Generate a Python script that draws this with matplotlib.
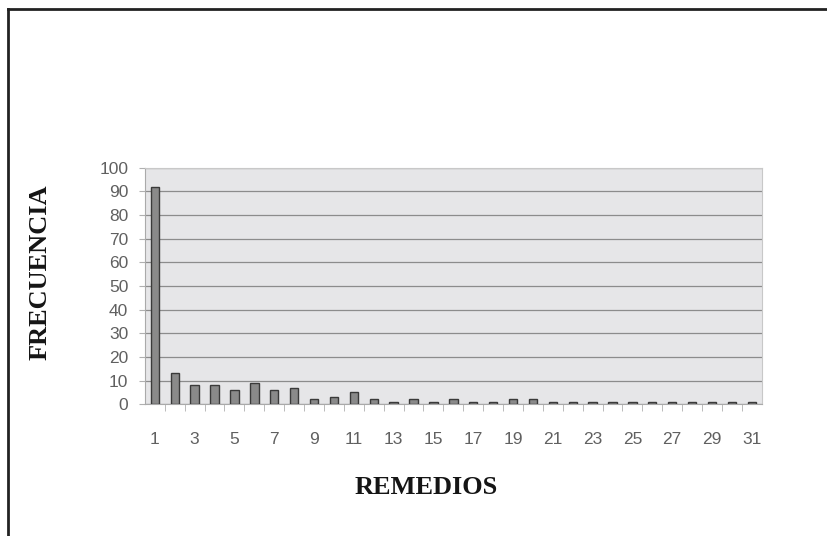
import matplotlib
matplotlib.use("Agg")
import matplotlib.pyplot as plt
from matplotlib.lines import Line2D
import numpy as np

remedios = list(range(1, 32))
frecuencia = [92, 13, 8, 8, 6, 9, 6, 7, 2, 3, 5, 2, 1, 2, 1, 2, 1, 1, 2, 2,
              1, 1, 1, 1, 1, 1, 1, 1, 1, 1, 1]
xtick_labels = [str(i) for i in range(1, 32, 2)]
yticks = list(range(0, 101, 10))

fig = plt.figure(figsize=(8.28, 5.36), dpi=100)
fig.patch.set_facecolor("white")

ax = fig.add_axes([0.175, 0.246, 0.745, 0.441])
ax.set_facecolor("#e6e6e8")
ax.bar(remedios, frecuencia, width=0.42, color="#8a8a8a", edgecolor="#3a3a3a",
       linewidth=1.0, zorder=3)
ax.set_xlim(0.5, 31.5)
ax.set_ylim(0, 100)
ax.set_yticks(yticks)
ax.set_yticklabels([str(v) for v in yticks], fontsize=12.5, color="#606060",
                   family="Liberation Sans")
ax.set_xticks(list(range(1, 32, 2)))
ax.set_xticklabels(xtick_labels, fontsize=12.5, color="#606060", family="Liberation Sans")
ax.set_xticks(np.arange(1.5, 31.5, 1.0), minor=True)
ax.tick_params(axis="x", which="major", length=0, pad=20)
ax.tick_params(axis="x", which="minor", length=5, color="#b0b0b0", direction="out")
ax.tick_params(axis="y", length=4, color="#b0b0b0", pad=8)
ax.grid(axis="y", color="#8c8c8c", linewidth=0.9, zorder=1)
for s in ["top", "right"]:
    ax.spines[s].set_color("#c8c8c8")
    ax.spines[s].set_linewidth(0.8)
ax.spines["left"].set_color("#aaaaaa")
ax.spines["bottom"].set_color("#aaaaaa")
ax.set_axisbelow(True)

fig.text(40/828, 1 - 272/536, "FRECUENCIA", rotation=90, ha="center", va="center",
         fontsize=19, fontweight="bold", family="Liberation Serif", color="#151515")
fig.text(426/828, 1 - 488/536, "REMEDIOS", ha="center", va="center",
         fontsize=19, fontweight="bold", family="Liberation Serif", color="#151515")

# outer frame (top and left visible)
fig.add_artist(Line2D([8/828, 8/828], [0, 1 - 9/536], transform=fig.transFigure,
                      color="#222222", linewidth=2))
fig.add_artist(Line2D([8/828, 1], [1 - 9/536, 1 - 9/536], transform=fig.transFigure,
                      color="#222222", linewidth=2))

fig.savefig("out.png", dpi=100)
